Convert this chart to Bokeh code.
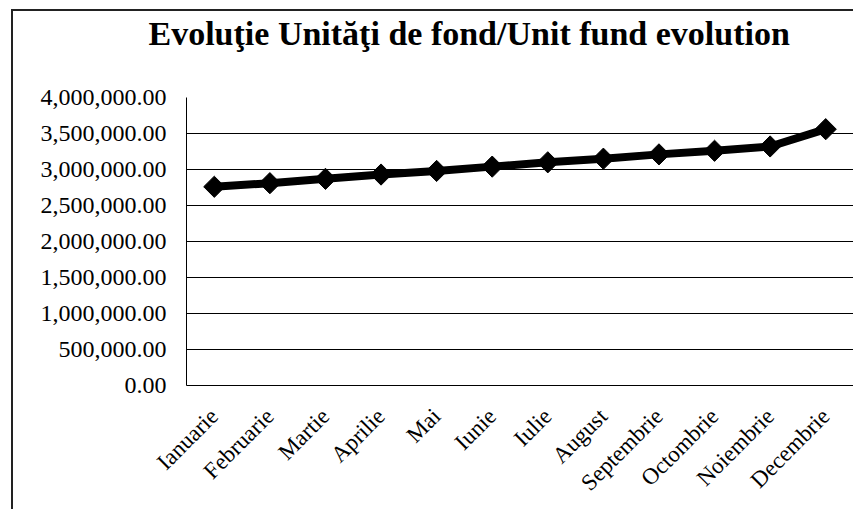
import math
from bokeh.plotting import figure
from bokeh.models import (FactorRange, Range1d, FixedTicker, NumeralTickFormatter, Title,
                          ColumnDataSource)
from bokeh.embed import file_html
from bokeh.resources import INLINE

# ---- data ----
months = ["Ianuarie", "Februarie", "Martie", "Aprilie", "Mai", "Iunie",
          "Iulie", "August", "Septembrie", "Octombrie", "Noiembrie", "Decembrie"]
fund_units = [2760000, 2810000, 2870000, 2930000, 2980000, 3040000,
              3100000, 3150000, 3210000, 3260000, 3320000, 3560000]
y_ticks = [0, 500000, 1000000, 1500000, 2000000, 2500000, 3000000, 3500000, 4000000]
title_text = "Evoluţie Unităţi de fond/Unit fund evolution"

SERIF = "Liberation Serif"

src = ColumnDataSource(dict(month=months, value=fund_units))

p = figure(x_range=FactorRange(*months, range_padding=0),
           y_range=Range1d(0, 4000000),
           width=842, height=500,
           output_backend="svg", toolbar_location=None,
           min_border_left=173, min_border_right=2,
           min_border_top=86, min_border_bottom=126,
           styles={"margin-left": "11px", "margin-top": "9px",
                   "border-left": "2px solid #222222", "border-top": "2px solid #222222",
                   "border-right": "0px none", "border-bottom": "0px none",
                   "outline": "none", "box-shadow": "none"})

# spacer between title and plot area
spacer = Title(text=" ", text_font_size="1px", standoff=42)
p.add_layout(spacer, "above")

t = Title(text=title_text, align="left", offset=-38,
          text_font=SERIF, text_font_size="34px", text_font_style="bold",
          text_color="black", standoff=2)
p.add_layout(t, "above")

p.line("month", "value", source=src, line_width=8, line_color="black")
p.scatter("month", "value", source=src, marker="square", angle=math.pi / 4,
          size=15, fill_color="black", line_color="black")

p.outline_line_color = None
p.background_fill_color = "white"
p.border_fill_color = "white"

p.yaxis.ticker = FixedTicker(ticks=y_ticks)
p.yaxis.formatter = NumeralTickFormatter(format="0,0.00")
p.yaxis.major_label_text_font = SERIF
p.yaxis.major_label_text_font_size = "24px"
p.yaxis.major_label_text_color = "black"
p.yaxis.major_tick_line_color = None
p.yaxis.minor_tick_line_color = None
p.yaxis.axis_line_color = "black"
p.yaxis.major_label_standoff = 14

p.xaxis.major_label_orientation = math.pi / 4
p.xaxis.major_label_text_font = SERIF
p.xaxis.major_label_text_font_size = "23px"
p.xaxis.major_label_text_color = "black"
p.xaxis.major_tick_line_color = None
p.xaxis.axis_line_color = "black"
p.xaxis.major_label_standoff = 21

p.xgrid.grid_line_color = None
p.ygrid.grid_line_color = "black"
p.ygrid.grid_line_width = 1
p.ygrid.ticker = FixedTicker(ticks=y_ticks)

open("out.html", "w").write(file_html(p, INLINE))
